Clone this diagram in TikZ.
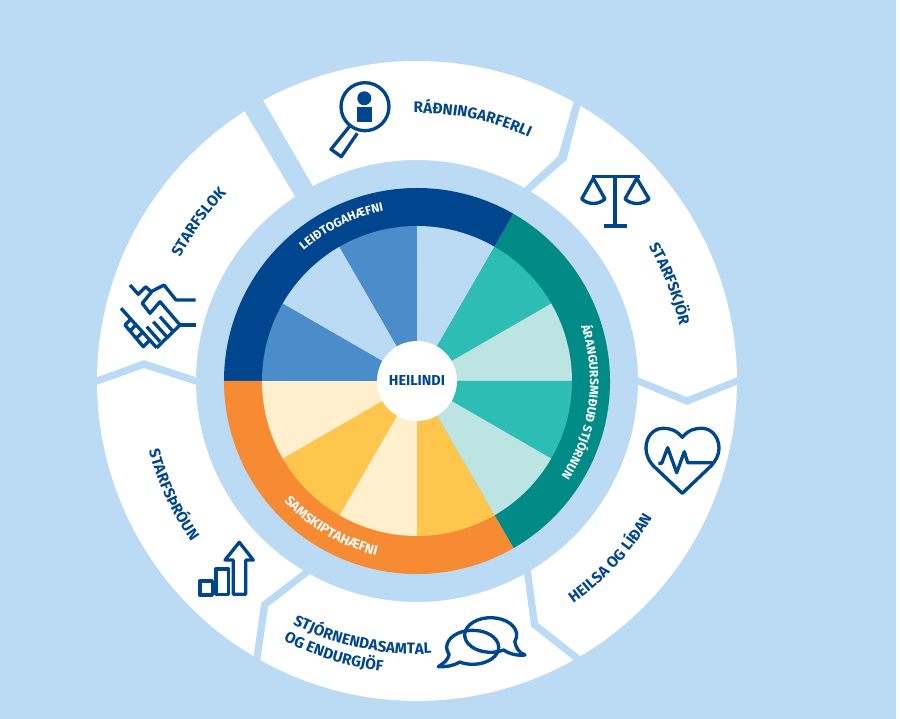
\documentclass[tikz,border=0pt]{standalone}
\usepackage{fontspec}
\setmainfont{Fira Sans}
\usepackage{xcolor}
\usetikzlibrary{decorations.text}
\definecolor{skyblue}{HTML}{BBDAF3}
\definecolor{navy}{HTML}{00468F}
\definecolor{midblue}{HTML}{4B8DCB}
\definecolor{teal}{HTML}{008B87}
\definecolor{turq}{HTML}{2EBDB5}
\definecolor{paleteal}{HTML}{BCE4E3}
\definecolor{orangering}{HTML}{F78B33}
\definecolor{amber}{HTML}{FFC64D}
\definecolor{cream}{HTML}{FFEFCD}
\newcommand{\outerfont}{\color{navy}\fontsize{8.7}{10}\bfseries}
\newcommand{\ringfont}{\color{white}\fontsize{7.6}{9}\bfseries}
\newcommand{\longringfont}{\color{white}\fontsize{6.9}{8}\bfseries}
% radius, start angle, end angle, font, text
\newcommand{\curvelabel}[5]{\path[decorate, decoration={text along path, text={|#4|#5}, text align=center}] (#2:#1) arc[start angle=#2, end angle=#3, radius=#1];}

\begin{document}
\begin{tikzpicture}[
    x=0.02cm, y=0.02cm,
    iconline/.style={draw=navy, line width=1.9pt, line join=round},
    hubnode/.style={circle, fill=white, minimum size=1.6cm, inner sep=0pt, text=navy, font=\fontsize{8.2}{10}\bfseries}
]
    \useasboundingbox (-417,-338) rectangle (483,381);
    \fill[skyblue] (-417,-338) rectangle (479,381);

    % Outer segments
    \foreach \a/\ea/\er/\sa/\sr in {0/-3.4/270.5/55.9/267, -60/-63.4/270.5/-5.1/271, -120/-123.4/270.5/-65.1/271, -180/177.3/273.3/-125.1/271}
        \fill[white] ({\a+59.3}:320) arc[start angle=\a+59.3, end angle=\a+0.7, radius=320] -- (\ea:\er) -- ({\a+1}:221) arc[start angle=\a+1, end angle=\a+59, radius=221] -- (\sa:\sr) -- cycle;
    \fill[white] (118.7:320) arc[start angle=118.7, end angle=60.7, radius=320] -- (57.9:265.5) -- (61:221) arc[start angle=61, end angle=118.1, radius=221] -- cycle;
    \fill[white] (179.3:320) arc[start angle=179.3, end angle=122.6, radius=320] -- (123.5:221) arc[start angle=123.5, end angle=179, radius=221] -- (175.6:273.8) -- cycle;

    % Ring
    \foreach \a/\c in {180/navy, 60/teal, -60/orangering}
        \fill[\c] (0,0) -- (\a:193) arc[start angle=\a, end angle=\a-120, radius=193] -- cycle;

    % Sectors
    \foreach \a/\c in {90/skyblue, 60/turq, 30/paleteal, 0/turq, -30/paleteal, -60/amber, -90/cream, -120/amber, -150/cream, 180/midblue, 150/skyblue, 120/midblue}
        \fill[\c] (0,0) -- (\a:155) arc[start angle=\a, end angle=\a-30, radius=155] -- cycle;

    % Hub
    \node[hubnode] (hub) at (0,0) {HEILINDI};

    % Ring labels
    \curvelabel{173}{135}{97}{\longringfont}{LEIÐTOGAHÆFNI}
    \curvelabel{173}{25}{-40}{\longringfont}{ÁRANGURSMIÐUÐ STJÓRNUN}
    \curvelabel{179}{217}{262}{\ringfont}{SAMSKIPTAHÆFNI}

    % Outer labels
    \curvelabel{268}{100}{56}{\outerfont}{RÁÐNINGARFERLI}
    \curvelabel{268}{40}{2}{\outerfont}{STARFSKJÖR}
    \curvelabel{272}{-65}{-20}{\outerfont}{HEILSA OG LÍÐAN}
    \curvelabel{273}{-125}{-79}{\outerfont}{STJÓRNENDASAMTAL}
    \curvelabel{292}{-125}{-89}{\outerfont}{OG ENDURGJÖF}
    \curvelabel{277}{185}{225}{\outerfont}{STARFSÞRÓUN}
    \curvelabel{267}{164}{124}{\outerfont}{STARFSLOK}

    % Icons, in pixels of the reference
    \begin{scope}[shift={(-417,381)}, y=-0.02cm]
        % Magnifier
        \draw[iconline] (365,106.7) circle[radius=24];
        \fill[navy] (364.3,98.3) circle[radius=7];
        \fill[navy] (357.3,106.7) rectangle (372,122.3);
        \draw[iconline] (349.3,126.7) -- (331,149.3) -- (341.3,156.7) -- (357.3,133.3);
        % Scales
        \draw[iconline] (591.7,176.7) -- (640,176.7) (615,176.7) -- (615,226) (604,226) -- (626.7,226);
        \draw[iconline] (581.7,199) -- (593.3,178.3) -- (605,199) .. controls (598,205) and (589,205) .. cycle;
        \draw[iconline] (625,199) -- (636.7,178.3) -- (649,199) .. controls (642,205) and (632,205) .. cycle;
        % Heart
        \draw[iconline] (682.3,437.3) .. controls (676,430) and (670,428.3) .. (663.3,428.3) .. controls (653,428.3) and (646,437) .. (646,448.3) .. controls (646,455) and (649,461) .. (653,465.5) -- (682.3,493.3) -- (711.5,465.5) .. controls (715.5,461) and (719,455) .. (719,448.3) .. controls (719,437) and (711.5,428.3) .. (701.7,428.3) .. controls (694.5,428.3) and (688.5,430) .. cycle;
        \draw[iconline] (658.3,463.3) -- (661.7,463.3) -- (667.7,447.7) -- (676.7,472.7) -- (684.3,451.7) -- (687.7,462.7) -- (712.7,462.7);
        % Speech bubbles
        \draw[iconline] (490.7,635) ++(60:26 and 17.3) arc[start angle=60, end angle=382, x radius=26, y radius=17.3] .. controls (516,648) and (519,653) .. (525,655) .. controls (518,656) and (509,654) .. cycle;
        \draw[iconline] (472.7,647.3) ++(155:26 and 17) arc[start angle=155, end angle=480, x radius=26, y radius=17] .. controls (453,666) and (446,667) .. (438.3,666.7) .. controls (444,663) and (448,660) .. cycle;
        % Bars and arrow
        \draw[iconline] (200,581) rectangle (212.3,595);
        \draw[iconline] (216,569) rectangle (228.7,594.3);
        \draw[iconline] (233.3,594.3) -- (245.7,594.3) -- (245.7,560) -- (253.3,560) -- (239.3,542.3) -- (225,560) -- (233.3,560) -- cycle;
        % Handshake
        \draw[iconline] (130,285) -- (138.3,294.3) -- (145.7,286.7) -- (151,291.7) -- (164,285) -- (176,300) -- (195.7,300);
        \draw[iconline] (151.7,291.7) -- (142.3,303.3) -- (150,313.3) -- (160,301.7) -- (180,325) -- (156.7,347.7);
        \draw[iconline] (180,325) -- (195.7,325);
        \draw[iconline] (121,308.3) -- (156.7,347.7);
        \draw[iconline] (131.7,318.3) -- (125,325) -- (143.3,346.7) -- (150,340);
        \draw[iconline] (130.3,330.7) -- (137,323.7) (136.5,338) -- (143.5,331.5);
        \draw[iconline] (146.7,326.7) -- (160,341.7) (153.3,321.7) -- (166.7,336.7) (160,316.7) -- (173.3,331.7);
    \end{scope}
\end{tikzpicture}
\end{document}
